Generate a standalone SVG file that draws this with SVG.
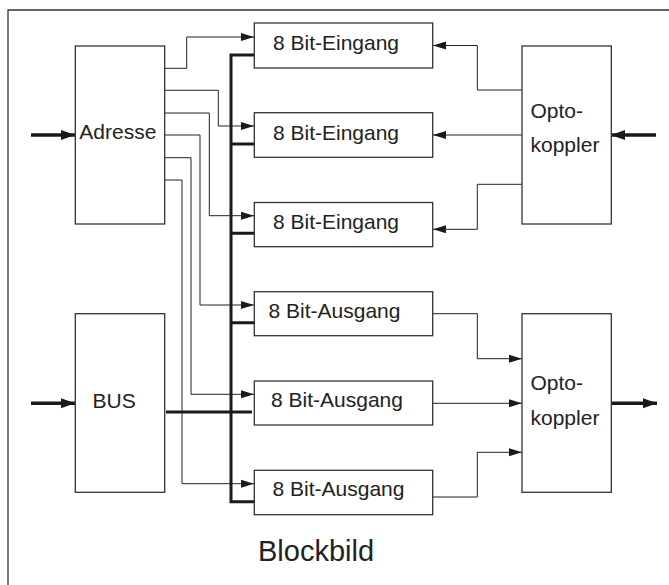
<svg xmlns="http://www.w3.org/2000/svg" width="669" height="585" viewBox="0 0 669 585">
<defs>
<style>
.box{fill:#fff;stroke:#333;stroke-width:1.3}
.t{font-family:"Liberation Sans",Arial,sans-serif;font-size:21px;fill:#222}
.w{fill:none;stroke:#222;stroke-width:1}
.bus{fill:none;stroke:#1a1a1a;stroke-width:3}
.in{fill:none;stroke:#1a1a1a;stroke-width:3.5}
</style>
<marker id="a" markerUnits="userSpaceOnUse" markerWidth="14" markerHeight="9" refX="13" refY="4.5" orient="auto">
<path d="M0,0.5 L13,4.5 L0,8.5 z" fill="#1a1a1a"/>
</marker>
<marker id="A" markerUnits="userSpaceOnUse" markerWidth="15" markerHeight="11" refX="14" refY="5" orient="auto">
<path d="M0,0 L14,5 L0,10 z" fill="#1a1a1a"/>
</marker>
</defs>
<rect width="669" height="585" fill="#fff"/>
<g id="frame"><path d="M8,585 V10 H669" fill="none" stroke="#333" stroke-width="1.3"/></g>

<g id="connectors">
<path class="bus" d="M254,55 H231 V501.7 H254"/>
<path class="bus" d="M231,144 H254 M231,233.3 H254 M231,322.7 H254"/>
<path class="bus" d="M166,412 H252"/>
<path class="w" marker-end="url(#a)" d="M165,68.3 H186.7 V37 H254"/>
<path class="w" marker-end="url(#a)" d="M165,90.3 H218.3 V126 H254"/>
<path class="w" marker-end="url(#a)" d="M165,113 H209.3 V215.7 H254"/>
<path class="w" marker-end="url(#a)" d="M165,135 H200 V305 H254"/>
<path class="w" marker-end="url(#a)" d="M165,157.7 H191 V394.3 H254"/>
<path class="w" marker-end="url(#a)" d="M165,180 H182 V483.7 H254"/>
<path class="w" marker-end="url(#a)" d="M522,90 H477.3 V45.5 H433"/>
<path class="w" marker-end="url(#a)" d="M522,135 H433"/>
<path class="w" marker-end="url(#a)" d="M522,184.3 H477.3 V229.3 H433"/>
<path class="w" marker-end="url(#a)" d="M433,313.7 H477.3 V358.7 H522"/>
<path class="w" marker-end="url(#a)" d="M433,403.3 H522"/>
<path class="w" marker-end="url(#a)" d="M433,497 H477.3 V452.3 H522"/>
<path class="in" marker-end="url(#A)" d="M31,135 H75"/>
<path class="in" marker-end="url(#A)" d="M31,403.3 H75"/>
<path class="in" marker-end="url(#A)" d="M656,135 H611"/>
<path class="in" marker-end="url(#A)" d="M611,403.3 H657"/>
</g>

<g id="adresse"><rect class="box" x="75.3" y="46" width="89.4" height="178"/><text class="t" x="79.3" y="139.3">Adresse</text></g>
<g id="bus"><rect class="box" x="75.3" y="313.7" width="89.4" height="178.6"/><text class="t" x="114.2" y="407.7" text-anchor="middle">BUS</text></g>

<g id="eingang1"><rect class="box" x="254.3" y="23" width="178.4" height="45"/><text class="t" x="336" y="50" text-anchor="middle">8 Bit-Eingang</text></g>
<g id="eingang2"><rect class="box" x="254.3" y="112.7" width="178.4" height="44.6"/><text class="t" x="336" y="139.5" text-anchor="middle">8 Bit-Eingang</text></g>
<g id="eingang3"><rect class="box" x="254.3" y="202.5" width="178.4" height="44.2"/><text class="t" x="336" y="228.8" text-anchor="middle">8 Bit-Eingang</text></g>
<g id="ausgang1"><rect class="box" x="254.3" y="291.7" width="178.4" height="44"/><text class="t" x="334.5" y="317.5" text-anchor="middle">8 Bit-Ausgang</text></g>
<g id="ausgang2"><rect class="box" x="254.3" y="381" width="178.4" height="44"/><text class="t" x="337" y="406.7" text-anchor="middle">8 Bit-Ausgang</text></g>
<g id="ausgang3"><rect class="box" x="254.3" y="470.3" width="178.4" height="44.4"/><text class="t" x="338.5" y="496.2" text-anchor="middle">8 Bit-Ausgang</text></g>

<g id="opto1"><rect class="box" x="522" y="46" width="89.3" height="178"/><text class="t" x="530.5" y="117.7">Opto-</text><text class="t" x="530.5" y="152">koppler</text></g>
<g id="opto2"><rect class="box" x="522" y="313.7" width="89.3" height="178.6"/><text class="t" x="530.5" y="390">Opto-</text><text class="t" x="530.5" y="425">koppler</text></g>

<g id="title"><text class="t" x="316" y="561" text-anchor="middle" style="font-size:29px">Blockbild</text></g>
</svg>
